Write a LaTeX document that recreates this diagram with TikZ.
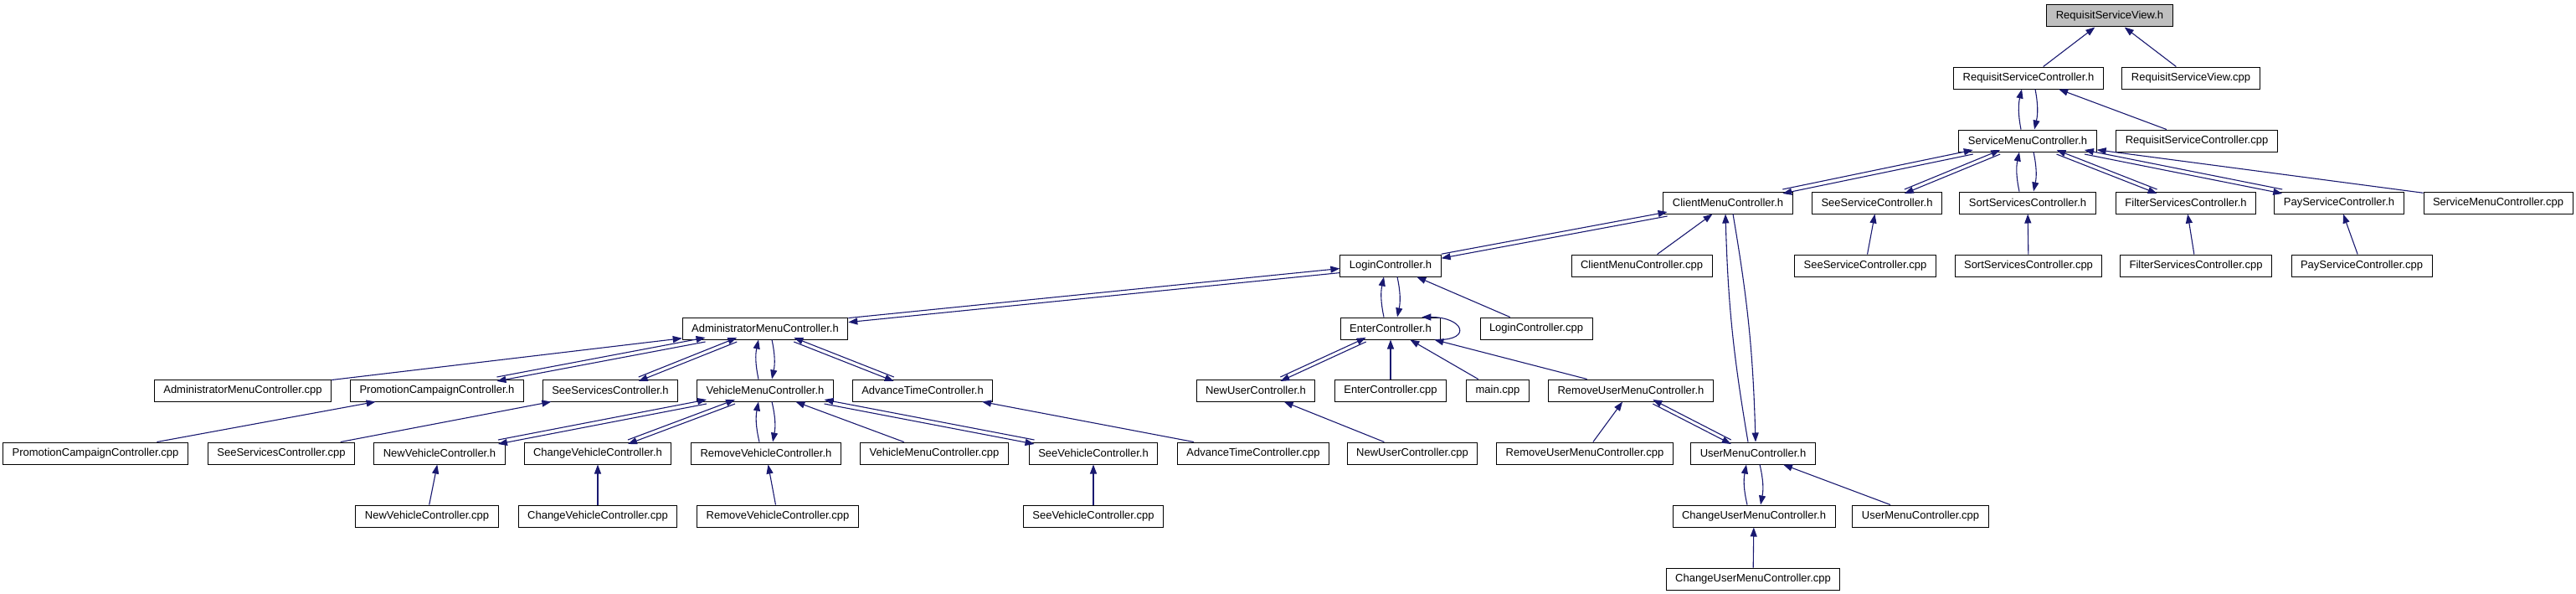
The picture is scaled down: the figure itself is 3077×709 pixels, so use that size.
\documentclass[tikz,border=0pt]{standalone}
\usepackage{fontspec}
\setmainfont{Liberation Sans}
\usepackage{xcolor}
\usepackage{tikz}
\usetikzlibrary{arrows.meta}
\definecolor{edgeblue}{RGB}{25,25,112}
\definecolor{rootgray}{RGB}{191,191,191}

\begin{document}
\begin{tikzpicture}[
x=1pt, y=-1pt,
every node/.style={font=\fontsize{13}{15}\selectfont},
file/.style={
    rectangle,
    draw=black,
    line width=1pt,
    fill=white,
    inner xsep=11pt,
    inner ysep=0pt,
    minimum height=26pt
},
root/.style={file, fill=rootgray},
arrow/.style={
    draw=edgeblue,
    line width=1.1pt,
    -{Triangle[length=11pt,width=8pt]}
},
hi/.style={transform canvas={yshift=2.5pt}},
lo/.style={transform canvas={yshift=-2.5pt}}
]
\useasboundingbox (0,0) rectangle (3077,709);

\node[root] (rsview) at (2520,19) {RequisitServiceView.h};

\node[file] (rsctrl) at (2423,93) {RequisitServiceController.h};
\node[file] (rsviewcpp) at (2617,93) {RequisitServiceView.cpp};

\node[file] (smenu) at (2422,168) {ServiceMenuController.h};
\node[file] (rsctrlcpp) at (2624,168) {RequisitServiceController.cpp};

\node[file] (client) at (2064,242) {ClientMenuController.h};
\node[file] (seesrv) at (2242,242) {SeeServiceController.h};
\node[file] (sortsrv) at (2422,242) {SortServicesController.h};
\node[file] (filtersrv) at (2611,242) {FilterServicesController.h};
\node[file] (paysrv) at (2794,242) {PayServiceController.h};
\node[file] (smenucpp) at (2984,242) {ServiceMenuController.cpp};

\node[file] (login) at (1661,317) {LoginController.h};
\node[file] (clientcpp) at (1961,317) {ClientMenuController.cpp};
\node[file] (seesrvcpp) at (2228,317) {SeeServiceController.cpp};
\node[file] (sortsrvcpp) at (2423,317) {SortServicesController.cpp};
\node[file] (filtersrvcpp) at (2623,317) {FilterServicesController.cpp};
\node[file] (paysrvcpp) at (2821,317) {PayServiceController.cpp};

\node[file] (admin) at (914,392) {AdministratorMenuController.h};
\node[file] (enter) at (1661,392) {EnterController.h};
\node[file] (logincpp) at (1835,392) {LoginController.cpp};

\node[file] (admincpp) at (290,466) {AdministratorMenuController.cpp};
\node[file] (promo) at (522,466) {PromotionCampaignController.h};
\node[file] (seesrvs) at (729,466) {SeeServicesController.h};
\node[file] (vehicle) at (914,466) {VehicleMenuController.h};
\node[file] (advtime) at (1102,466) {AdvanceTimeController.h};
\node[file] (newuser) at (1500,466) {NewUserController.h};
\node[file] (entercpp) at (1661,466) {EnterController.cpp};
\node[file] (maincpp) at (1789,466) {main.cpp};
\node[file] (rmuser) at (1948,466) {RemoveUserMenuController.h};

\node[file] (promocpp) at (114,541) {PromotionCampaignController.cpp};
\node[file] (seesrvscpp) at (336,541) {SeeServicesController.cpp};
\node[file] (newveh) at (525,541) {NewVehicleController.h};
\node[file] (chveh) at (714,541) {ChangeVehicleController.h};
\node[file] (rmveh) at (915,541) {RemoveVehicleController.h};
\node[file] (vehiclecpp) at (1116,541) {VehicleMenuController.cpp};
\node[file] (seeveh) at (1306,541) {SeeVehicleController.h};
\node[file] (advtimecpp) at (1497,541) {AdvanceTimeController.cpp};
\node[file] (newusercpp) at (1687,541) {NewUserController.cpp};
\node[file] (rmusercpp) at (1893,541) {RemoveUserMenuController.cpp};
\node[file] (usermenu) at (2094,541) {UserMenuController.h};

\node[file] (newvehcpp) at (510,616) {NewVehicleController.cpp};
\node[file] (chvehcpp) at (714,616) {ChangeVehicleController.cpp};
\node[file] (rmvehcpp) at (929,616) {RemoveVehicleController.cpp};
\node[file] (seevehcpp) at (1306,616) {SeeVehicleController.cpp};
\node[file] (chuser) at (2095,616) {ChangeUserMenuController.h};
\node[file] (usermenucpp) at (2294,616) {UserMenuController.cpp};

\node[file] (chusercpp) at (2094,691) {ChangeUserMenuController.cpp};

\draw [arrow] (rsctrl) -- (rsview);
\draw [arrow] (rsviewcpp) -- (rsview);
\draw [arrow] (rsctrlcpp) -- (rsctrl);
\draw [arrow] ([xshift=-8pt]smenu.north) to[bend left=12] ([xshift=-8pt]rsctrl.south);
\draw [arrow] ([xshift=8pt]rsctrl.south) to[bend left=12] ([xshift=8pt]smenu.north);

\draw [arrow, hi] (client) -- (smenu);
\draw [arrow, lo] (smenu) -- (client);
\draw [arrow, hi] (seesrv) -- (smenu);
\draw [arrow, lo] (smenu) -- (seesrv);
\draw [arrow] ([xshift=-10pt]sortsrv.north) to[bend left=12] ([xshift=-10pt]smenu.south);
\draw [arrow] ([xshift=7pt]smenu.south) to[bend left=12] ([xshift=7pt]sortsrv.north);
\draw [arrow, hi] (filtersrv) -- (smenu);
\draw [arrow, lo] (smenu) -- (filtersrv);
\draw [arrow, hi] (paysrv) -- (smenu);
\draw [arrow, lo] (smenu) -- (paysrv);
\draw [arrow] (smenucpp) -- (smenu);

\draw [arrow] (seesrvcpp) -- (seesrv);
\draw [arrow] (sortsrvcpp) -- (sortsrv);
\draw [arrow] (filtersrvcpp) -- (filtersrv);
\draw [arrow] (paysrvcpp) -- (paysrv);

\draw [arrow, hi] (login) -- (client);
\draw [arrow, lo] (client) -- (login);
\draw [arrow] (clientcpp) -- (client);
\draw [arrow] ([xshift=-6pt]usermenu.north) to[bend left=4] ([xshift=-3pt]client.south);
\draw [arrow] ([xshift=6pt]client.south) to[bend left=4] ([xshift=3pt]usermenu.north);

\draw [arrow, hi] (admin) -- (login);
\draw [arrow, lo] (login) -- (admin);
\draw [arrow] ([xshift=-8pt]enter.north) to[bend left=12] ([xshift=-8pt]login.south);
\draw [arrow] ([xshift=8pt]login.south) to[bend left=12] ([xshift=8pt]enter.north);
\draw [arrow] (logincpp) -- (login);

\draw [arrow] ([xshift=-3pt]enter.south east) .. controls +(40,0) and +(50,0) .. ([xshift=-23pt]enter.north east);
\draw [arrow, hi] (newuser) -- (enter);
\draw [arrow, lo] (enter) -- (newuser);
\draw [arrow] (entercpp) -- (enter);
\draw [arrow] (maincpp) -- (enter);
\draw [arrow] (rmuser) -- (enter);

\draw [arrow] (newusercpp) -- (newuser);
\draw [arrow] (rmusercpp) -- (rmuser);
\draw [arrow, hi] (usermenu) -- (rmuser);
\draw [arrow, lo] (rmuser) -- (usermenu);
\draw [arrow] (usermenucpp) -- (usermenu);
\draw [arrow] ([xshift=-8pt]chuser.north) to[bend left=12] ([xshift=-8pt]usermenu.south);
\draw [arrow] ([xshift=8pt]usermenu.south) to[bend left=12] ([xshift=8pt]chuser.north);
\draw [arrow] (chusercpp) -- (chuser);

\draw [arrow] (admincpp) -- (admin);
\draw [arrow, hi] (promo) -- (admin);
\draw [arrow, lo] (admin) -- (promo);
\draw [arrow, hi] (seesrvs) -- (admin);
\draw [arrow, lo] (admin) -- (seesrvs);
\draw [arrow] ([xshift=-8pt]vehicle.north) to[bend left=12] ([xshift=-8pt]admin.south);
\draw [arrow] ([xshift=8pt]admin.south) to[bend left=12] ([xshift=8pt]vehicle.north);
\draw [arrow, hi] (advtime) -- (admin);
\draw [arrow, lo] (admin) -- (advtime);

\draw [arrow] (promocpp) -- (promo);
\draw [arrow] (seesrvscpp) -- (seesrvs);
\draw [arrow] (advtimecpp) -- (advtime);

\draw [arrow, hi] (newveh) -- (vehicle);
\draw [arrow, lo] (vehicle) -- (newveh);
\draw [arrow, hi] (chveh) -- (vehicle);
\draw [arrow, lo] (vehicle) -- (chveh);
\draw [arrow] ([xshift=-8pt]rmveh.north) to[bend left=12] ([xshift=-8pt]vehicle.south);
\draw [arrow] ([xshift=8pt]vehicle.south) to[bend left=12] ([xshift=8pt]rmveh.north);
\draw [arrow] (vehiclecpp) -- (vehicle);
\draw [arrow, hi] (seeveh) -- (vehicle);
\draw [arrow, lo] (vehicle) -- (seeveh);

\draw [arrow] (newvehcpp) -- (newveh);
\draw [arrow] (chvehcpp) -- (chveh);
\draw [arrow] (rmvehcpp) -- (rmveh);
\draw [arrow] (seevehcpp) -- (seeveh);

\end{tikzpicture}
\end{document}
